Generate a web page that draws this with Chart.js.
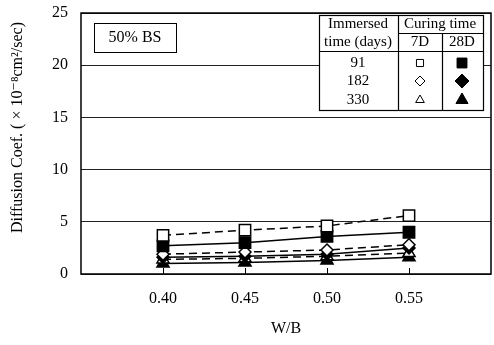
<!DOCTYPE html>
<html>
<head>
<meta charset="utf-8">
<script src="https://cdn.jsdelivr.net/npm/chart.js@4"></script>
<style>
  html, body { margin: 0; padding: 0; background: #fff; }
  #wrap { width: 494px; height: 345px; }
</style>
</head>
<body>
<div id="wrap"><canvas id="myChart" width="494" height="345"></canvas></div>
<script>
// W/B ratios on the x axis
const wb = [0.40, 0.45, 0.50, 0.55];
const yTicks = [0, 5, 10, 15, 20, 25];

// diffusion coefficient (x10^-8 cm2/sec), 7D = open marks, 28D = filled marks
const sq7 = [3.7, 4.2, 4.6, 5.6];   // 91 days, 7D
const sq28 = [2.7, 3.0, 3.6, 4.0];  // 91 days, 28D
const di7 = [1.9, 2.1, 2.3, 2.8];   // 182 days, 7D
const di28 = [1.6, 1.7, 1.9, 2.5];  // 182 days, 28D
const tr7 = [1.4, 1.5, 1.7, 2.0];   // 330 days, 7D
const tr28 = [1.0, 1.1, 1.3, 1.6];  // 330 days, 28D

// legend table text
const immersed = ['91', '182', '330'];
const curing = ['7D', '28D'];
const markStyles = ['rect', 'rectRot', 'triangle'];

const SERIF = "'Liberation Serif', 'DejaVu Serif', serif";

function series(vals, style, filled, radius) {
  return {
    data: wb.map((x, i) => ({ x: x, y: vals[i] })),
    borderColor: '#000',
    borderWidth: 1.5,
    borderDash: filled ? [] : [8, 5],
    pointStyle: style,
    pointRadius: radius,
    pointBackgroundColor: filled ? '#000' : '#fff',
    pointBorderColor: '#000',
    pointBorderWidth: 1.5,
    fill: false,
    tension: 0
  };
}

const framePlugin = {
  id: 'frame',
  afterDraw(chart) {
    const ctx = chart.ctx;
    const a = chart.chartArea;
    const xs = chart.scales.x;
    ctx.save();
    ctx.strokeStyle = '#000';
    ctx.lineWidth = 1.5;
    ctx.strokeRect(a.left, a.top, a.right - a.left, a.bottom - a.top);

    // inward tick marks on x axis
    ctx.lineWidth = 1;
    wb.forEach(v => {
      const px = Math.round(xs.getPixelForValue(v)) + 0.5;
      ctx.beginPath();
      ctx.moveTo(px, a.bottom);
      ctx.lineTo(px, a.bottom - 6);
      ctx.stroke();
    });

    // "50% BS" label box
    ctx.fillStyle = '#fff';
    ctx.fillRect(94, 23, 82, 29);
    ctx.strokeRect(94.5, 23.5, 82, 29);
    ctx.fillStyle = '#000';
    ctx.font = '16px ' + SERIF;
    ctx.textAlign = 'center';
    ctx.textBaseline = 'middle';
    ctx.fillText('50% BS', 135, 38);

    // legend table
    const L = 319, R = 483, T = 15, B = 110;
    ctx.fillStyle = '#fff';
    ctx.fillRect(L, T, R - L, B - T);
    ctx.strokeStyle = '#000';
    ctx.lineWidth = 1.2;
    ctx.strokeRect(L + 0.5, T + 0.5, R - L, B - T);
    ctx.beginPath();
    ctx.moveTo(398.5, T); ctx.lineTo(398.5, B);
    ctx.moveTo(442.5, 33); ctx.lineTo(442.5, B);
    ctx.moveTo(398, 33.5); ctx.lineTo(R, 33.5);
    ctx.moveTo(L, 51.5); ctx.lineTo(R, 51.5);
    ctx.stroke();

    ctx.fillStyle = '#000';
    ctx.font = '15px ' + SERIF;
    ctx.fillText('Immersed', 358, 24);
    ctx.fillText('time (days)', 358, 42);
    ctx.fillText('Curing time', 440, 24);
    ctx.fillText(curing[0], 420, 42);
    ctx.fillText(curing[1], 462, 42);
    const rowY = [63, 81, 100];
    immersed.forEach((t, i) => {
      ctx.fillStyle = '#000';
      ctx.fillText(t, 358, rowY[i]);
      // open mark
      ctx.lineWidth = 1;
      ctx.fillStyle = '#fff';
      Chart.helpers.drawPoint(ctx, { pointStyle: markStyles[i], radius: 5, borderWidth: 1 }, 420, rowY[i]);
      // filled mark
      ctx.fillStyle = '#000';
      Chart.helpers.drawPoint(ctx, { pointStyle: markStyles[i], radius: 7, borderWidth: 1 }, 462, rowY[i]);
    });
    ctx.restore();
  }
};

new Chart(document.getElementById('myChart').getContext('2d'), {
  type: 'line',
  data: {
    datasets: [
      series(sq7, 'rect', false, 8),
      series(sq28, 'rect', true, 8),
      series(di7, 'rectRot', false, 6),
      series(di28, 'rectRot', true, 6),
      series(tr7, 'triangle', false, 7),
      series(tr28, 'triangle', true, 7)
    ]
  },
  options: {
    responsive: false,
    animation: false,
    layout: { autoPadding: false, padding: { top: 13, right: 3, left: 8, bottom: 3 } },
    plugins: { legend: { display: false }, tooltip: { enabled: false } },
    scales: {
      x: {
        type: 'linear',
        min: 0.35,
        max: 0.60,
        afterBuildTicks: s => { s.ticks = wb.map(v => ({ value: v })); },
        afterFit: s => { s.height = 345 - 274 - 3; s.paddingLeft = 0; s.paddingRight = 0; },
        grid: { display: false, drawTicks: false },
        border: { display: false },
        ticks: {
          color: '#000',
          padding: 15,
          font: { family: SERIF, size: 16 },
          callback: v => v.toFixed(2)
        },
        title: {
          display: true,
          text: 'W/B',
          color: '#000',
          font: { family: SERIF, size: 16 },
          padding: { top: 0, bottom: 4 }
        }
      },
      y: {
        min: 0,
        max: 25,
        afterBuildTicks: s => { s.ticks = yTicks.map(v => ({ value: v })); },
        afterFit: s => { s.width = 81 - 8; s.paddingTop = 0; s.paddingBottom = 0; },
        grid: { color: '#222', lineWidth: 1, drawTicks: false },
        border: { display: false },
        ticks: {
          color: '#000',
          padding: 13,
          font: { family: SERIF, size: 16 }
        },
        title: {
          display: true,
          text: '\u2003\u2003Diffusion Coef. ( × 10⁻⁸cm²/sec)',
          color: '#000',
          font: { family: SERIF, size: 16 },
          padding: { top: 0, bottom: 4 }
        }
      }
    }
  },
  plugins: [framePlugin]
});
</script>
</body>
</html>
